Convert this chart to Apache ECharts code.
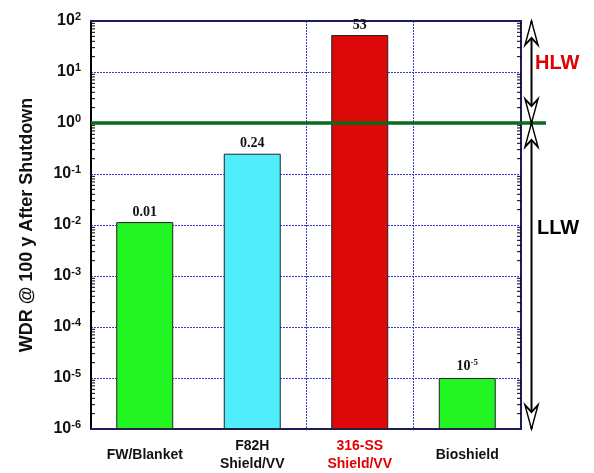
<!DOCTYPE html>
<html><head><meta charset="utf-8">
<script src="https://cdn.jsdelivr.net/npm/echarts@6/dist/echarts.min.js"></script>
<style>html,body{margin:0;padding:0;background:#fff}#c{width:594px;height:473px}</style>
</head><body><div id="c"></div>
<script>
// ---- data ----
const categories = ['FW/Blanket', 'F82H\nShield/VV', '316-SS\nShield/VV', 'Bioshield'];
const wdrValues = [0.0114, 0.25, 53, 1e-5];
const valueLabels = ['0.01', '0.24', '53', '{b|10}{e|-5}'];
const barColors = ['#22f522', '#50eefc', '#dd0808', '#22f522'];
const labelColors = ['#111', '#111', '#e00000', '#111'];
const hlwLimit = 1;
const yMin = 1e-6, yMax = 100;
// arrow ends (HLW: yMax..limit, LLW: limit..yMin)
const arrowHeads = [[0.5, yMax, 'up'], [0.5, hlwLimit, 'down'], [0.5, hlwLimit, 'up'], [0.5, yMin, 'down']];

// minor log ticks (axis decoration)
const minorTicks = [];
for (let k = -6; k < 2; k++) for (let m = 2; m <= 9; m++) minorTicks.push(m * Math.pow(10, k));

const frameColor = '#1c1c60';
const gridColor = '#3a3ad8';
const chart = echarts.init(document.getElementById('c'));

const grids = [
  {left: 91, right: 73, top: 21, bottom: 44},
  {left: 91, right: 48, top: 21, bottom: 44},
  {left: 526, width: 11, top: 21, bottom: 44}
];

chart.setOption({
  animation: false,
  grid: grids,
  xAxis: [
    {type: 'category', gridIndex: 0, data: categories, boundaryGap: true,
     axisLine: {lineStyle: {color: frameColor, width: 2}},
     axisTick: {inside: true, length: 5, lineStyle: {color: '#000'}},
     splitLine: {show: true, interval: (i) => i === 2 || i === 3, lineStyle: {color: gridColor, type: [2, 1], width: 1}},
     axisLabel: {fontFamily: 'Liberation Sans, Arial', fontWeight: 'bold', fontSize: 14, lineHeight: 18,
       verticalAlign: 'middle', margin: 26, interval: 0,
       color: (v, i) => labelColors[i]}},
    {type: 'category', gridIndex: 0, position: 'top', data: categories, boundaryGap: true,
     axisLine: {lineStyle: {color: frameColor, width: 2}},
     axisTick: {inside: true, length: 5, lineStyle: {color: '#000'}},
     axisLabel: {show: false}},
    {type: 'value', gridIndex: 1, min: 0, max: 1, show: false},
    {type: 'value', gridIndex: 2, min: 0, max: 1, show: false}
  ],
  yAxis: [
    {type: 'log', gridIndex: 0, logBase: 10, min: yMin, max: yMax, startValue: yMin,
     name: 'WDR @ 100 y After Shutdown', nameLocation: 'middle', nameGap: 55, nameRotate: 90,
     nameTextStyle: {fontFamily: 'Liberation Sans, Arial', fontWeight: 'bold', fontSize: 18, color: '#111'},
     axisLine: {show: true, lineStyle: {color: '#000', width: 2}},
     axisTick: {inside: true, length: 8, lineStyle: {color: '#000', width: 1.5}},
     splitLine: {show: true, lineStyle: {color: gridColor, type: [2, 1], width: 1}},
     axisLabel: {margin: 10, formatter: (v) => '{b|10}{e|' + Math.round(Math.log10(v)) + '}',
       rich: {b: {fontFamily: 'Liberation Sans, Arial', fontWeight: 'bold', fontSize: 16, color: '#111'},
              e: {fontFamily: 'Liberation Sans, Arial', fontWeight: 'bold', fontSize: 11, color: '#111', padding: [0, 0, 9, 0]}}}},
    {type: 'log', gridIndex: 0, logBase: 10, min: yMin, max: yMax, position: 'right',
     axisLine: {show: true, lineStyle: {color: frameColor, width: 2}},
     axisTick: {inside: true, length: 8, lineStyle: {color: '#000', width: 1.5}},
     splitLine: {show: false}, axisLabel: {show: false}},
    {type: 'log', gridIndex: 1, logBase: 10, min: yMin, max: yMax, show: false},
    {type: 'log', gridIndex: 2, logBase: 10, min: yMin, max: yMax, show: false}
  ],
  graphic: [
    {type: 'text', left: 535, top: 53, style: {text: 'HLW', fill: '#e00000', font: 'bold 20px "Liberation Sans", Arial'}},
    {type: 'text', left: 537, top: 218, style: {text: 'LLW', fill: '#000', font: 'bold 20px "Liberation Sans", Arial'}}
  ],
  series: [
    {type: 'bar', xAxisIndex: 0, yAxisIndex: 0, barWidth: '53%', z: 3,
     data: wdrValues.map((v, i) => ({value: v, itemStyle: {color: barColors[i], borderColor: '#222', borderWidth: 1}})),
     label: {show: true, position: 'top', distance: 3,
       formatter: (p) => valueLabels[p.dataIndex],
       fontFamily: 'Liberation Serif, Times New Roman', fontWeight: 'bold', fontSize: 14, color: '#111',
       rich: {b: {fontFamily: 'Liberation Serif', fontWeight: 'bold', fontSize: 14, color: '#111'},
              e: {fontFamily: 'Liberation Serif', fontWeight: 'bold', fontSize: 9, color: '#111', padding: [0, 0, 8, 0]}}}},
    {type: 'custom', xAxisIndex: 0, yAxisIndex: 0, z: 4, silent: true,
     data: minorTicks.map(v => [0, v]),
     renderItem: (params, api) => {
       const cs = params.coordSys;
       const y = api.coord([0, api.value(1)])[1];
       return {type: 'group', children: [
         {type: 'line', shape: {x1: cs.x, y1: y, x2: cs.x + 4, y2: y}, style: {stroke: '#000', lineWidth: 1}},
         {type: 'line', shape: {x1: cs.x + cs.width - 4, y1: y, x2: cs.x + cs.width, y2: y}, style: {stroke: '#000', lineWidth: 1}}
       ]};
     }},
    {type: 'line', xAxisIndex: 2, yAxisIndex: 2, data: [], silent: true, z: 5,
     markLine: {silent: true, symbol: 'none', label: {show: false},
       lineStyle: {color: '#0b6a1e', width: 3.5, type: 'solid'}, data: [{yAxis: hlwLimit}]}},
    {type: 'line', xAxisIndex: 3, yAxisIndex: 3, data: [[0.5, yMax], [0.5, yMin]], symbol: 'none', silent: true,
     lineStyle: {color: '#000', width: 2}, z: 5},
    {type: 'scatter', xAxisIndex: 3, yAxisIndex: 3, silent: true, z: 6,
     symbol: 'path://M6,0 L12,24 L6,17 L0,24 Z', symbolKeepAspect: false, symbolSize: [13, 24],
     itemStyle: {color: '#fff', borderColor: '#000', borderWidth: 1.8, opacity: 1},
     data: arrowHeads.map(a => ({value: [a[0], a[1]], symbolRotate: a[2] === 'up' ? 0 : 180,
       symbolOffset: a[2] === 'up' ? [0, 12] : [0, -12]}))}
  ]
});
</script></body></html>
